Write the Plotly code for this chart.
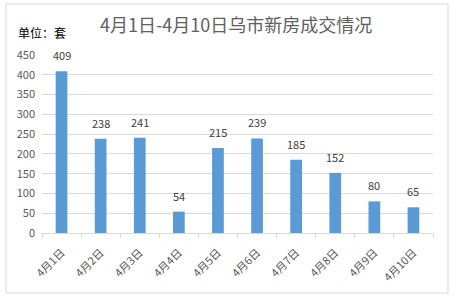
import plotly.graph_objects as go

categories = ["4月1日", "4月2日", "4月3日", "4月4日", "4月5日", "4月6日", "4月7日", "4月8日", "4月9日", "4月10日"]
values = [409, 238, 241, 54, 215, 239, 185, 152, 80, 65]
y_ticks = [0, 50, 100, 150, 200, 250, 300, 350, 400, 450]

title_text = "4月1日-4月10日乌市新房成交情况"
unit_text = "单位：套"

W, H = 459, 301
L, R, T, B = 42, 26, 55, 68
pw, ph = W - L - R, H - T - B

def px_x(p):
    return (p - L) / pw

def px_y(p):
    return (H - B - p) / ph

font_family = "Microsoft YaHei, Noto Sans CJK SC, sans-serif"

fig = go.Figure(go.Bar(
    x=categories, y=values,
    marker=dict(color="#5b9bd5", line=dict(width=0)),
    cliponaxis=False, width=0.3,
))

annotations = [
    dict(x=c, y=v, text=str(v), showarrow=False, xanchor="center", yanchor="bottom",
         yshift=6, font=dict(color="#404040", size=11, family=font_family))
    for c, v in zip(categories, values)
]
annotations += [
    dict(text=title_text, xref="paper", yref="paper", x=px_x(236), y=px_y(24),
         showarrow=False, xanchor="center", yanchor="middle",
         font=dict(size=18, color="#606060", family=font_family)),
    dict(text=unit_text, xref="paper", yref="paper", x=px_x(16), y=px_y(33),
         showarrow=False, xanchor="left", yanchor="middle",
         font=dict(size=12, color="#000000", family=font_family)),
]

fig.update_layout(
    width=W, height=H,
    margin=dict(l=L, r=R, t=T, b=B),
    paper_bgcolor="white", plot_bgcolor="white",
    showlegend=False,
    font=dict(family=font_family, color="#595959", size=11),
    xaxis=dict(
        type="category", tickangle=-45, showgrid=False,
        showline=True, linecolor="#d9d9d9", linewidth=1,
        ticks="outside", tickson="boundaries", ticklen=4, tickcolor="#d9d9d9",
        tickfont=dict(size=11, color="#595959"), ticklabelstandoff=8,
    ),
    yaxis=dict(
        range=[0, 450], tickvals=y_ticks, showgrid=True, gridcolor="#d9d9d9",
        gridwidth=1, zeroline=False, showline=False, ticks="",
        tickfont=dict(size=11, color="#595959"), ticklabelstandoff=6,
    ),
    shapes=[dict(type="rect", xref="paper", yref="paper",
                 x0=px_x(6), x1=px_x(448), y0=px_y(293), y1=px_y(4),
                 line=dict(color="#d9d9d9", width=1), fillcolor="rgba(0,0,0,0)", layer="below")],
    annotations=annotations,
)

fig.write_html("out.html")
